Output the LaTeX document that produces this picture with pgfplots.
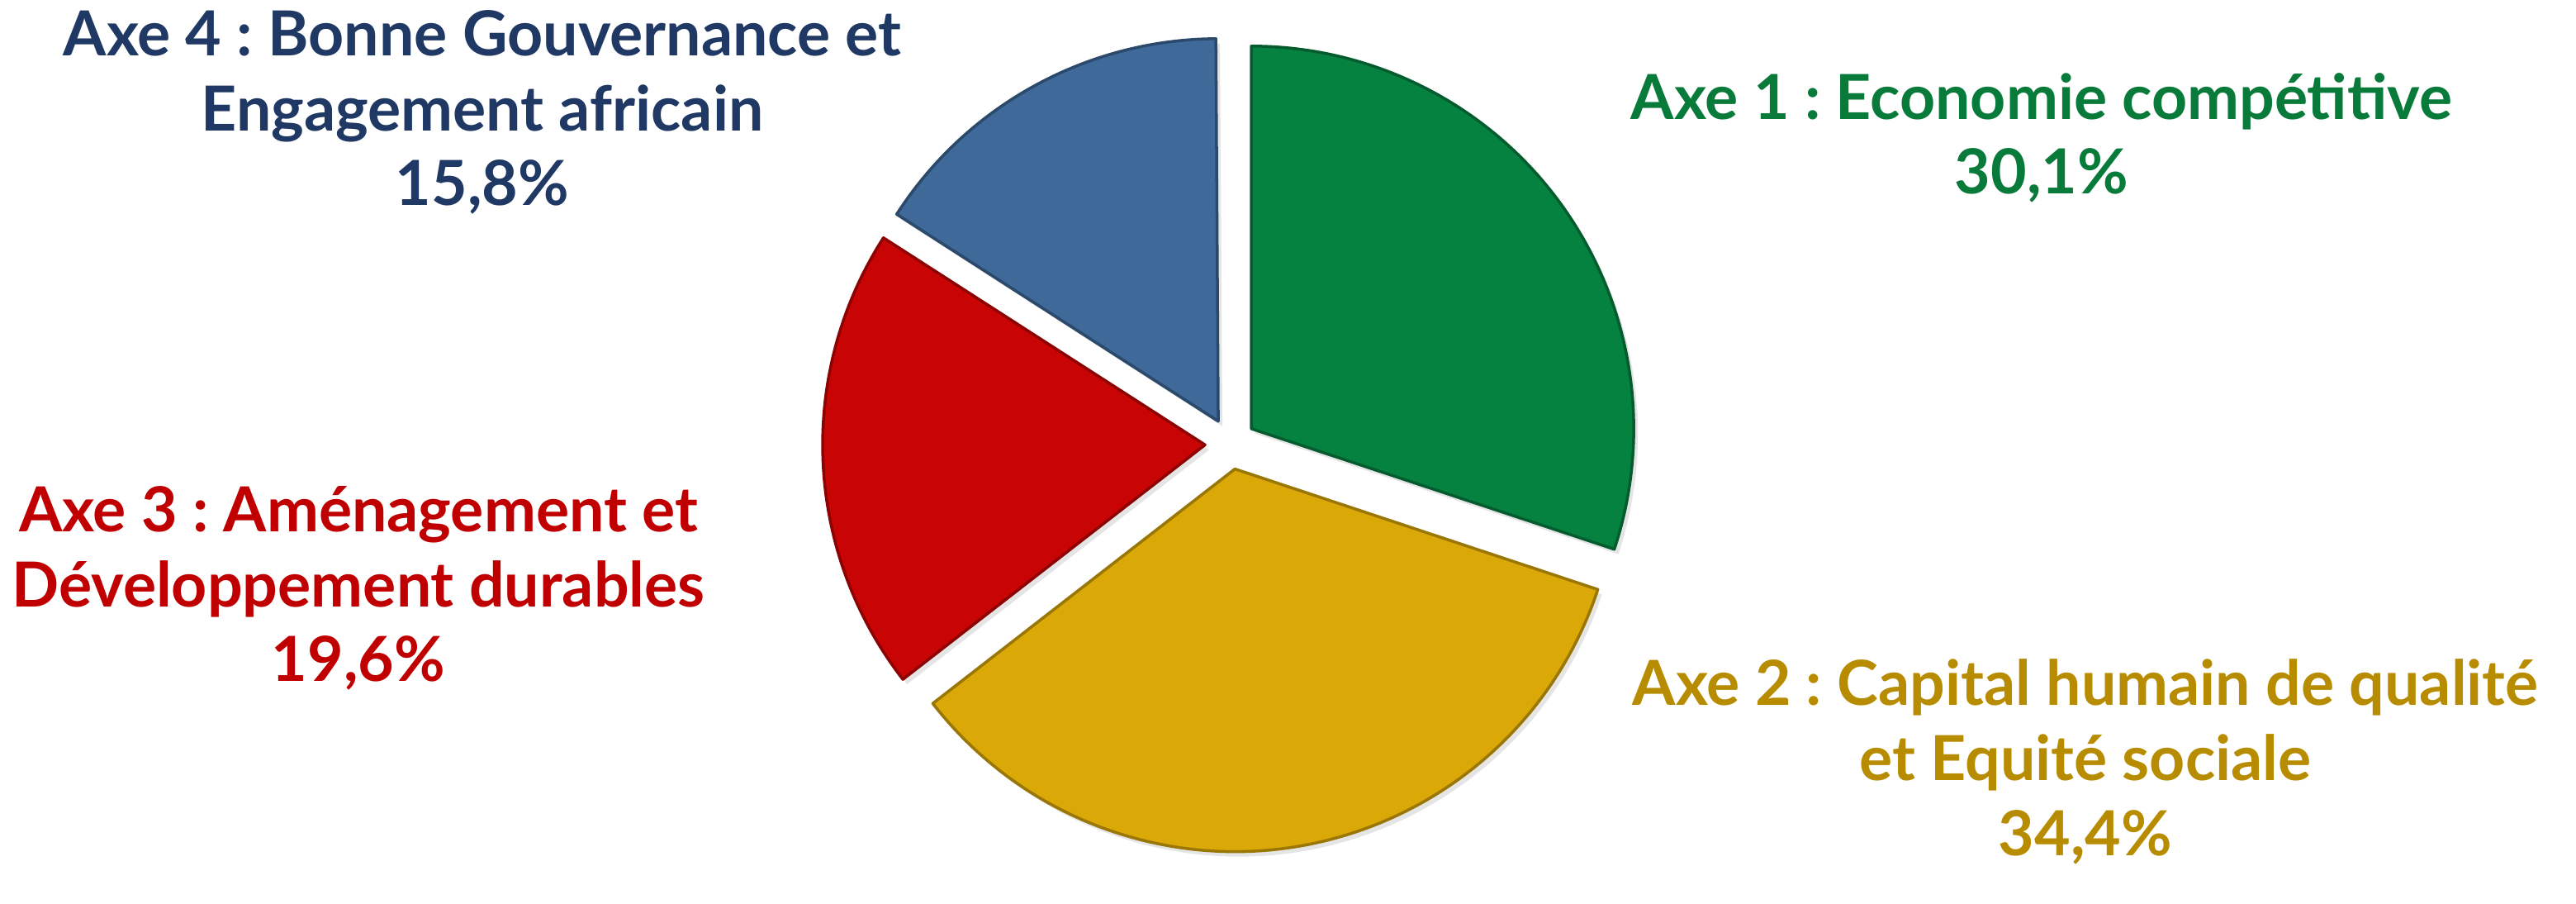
\documentclass[border=0pt]{standalone}
\usepackage{pgfplots}
\pgfplotsset{compat=1.18}
\usepackage{pgfplotstable}
\usepackage{fontspec}
\setmainfont{Lato}

\definecolor{slgreen}{RGB}{6,130,64}
\definecolor{slyellow}{RGB}{218,168,7}
\definecolor{slred}{RGB}{200,4,4}
\definecolor{slblue}{RGB}{62,105,153}
\definecolor{txgreen}{RGB}{8,122,58}
\definecolor{txgold}{RGB}{184,140,0}
\definecolor{txred}{RGB}{192,0,0}
\definecolor{txnavy}{RGB}{31,56,100}

% share of each axis (%)
\pgfplotstableread{
axe pct
1 30.1
2 34.4
3 19.6
4 15.8
}\pietable

\pgfplotstablegetelem{0}{pct}\of\pietable \let\pA\pgfplotsretval
\pgfplotstablegetelem{1}{pct}\of\pietable \let\pB\pgfplotsretval
\pgfplotstablegetelem{2}{pct}\of\pietable \let\pC\pgfplotsretval
\pgfplotstablegetelem{3}{pct}\of\pietable \let\pD\pgfplotsretval
\pgfmathsetmacro\angA{90}
\pgfmathsetmacro\angB{\angA-3.6*\pA}
\pgfmathsetmacro\angC{\angB-3.6*\pB}
\pgfmathsetmacro\angD{\angC-3.6*\pC}
\pgfmathsetmacro\angE{\angD-3.6*\pD}

% exploded slice: start angle, end angle, colour
\newcommand\slice[3]{%
  \fill[black, opacity=0.10]
    ([shift={({(#1+#2)/2}:3.1mm)}, xshift=0.5mm, yshift=-0.6mm]axis cs:1490,503) -- ++(#1:46.3mm)
    arc[start angle=#1, end angle=#2, radius=46.3mm] -- cycle;
  \fill[#3, draw=#3!70!black, line width=1pt, line join=round]
    ([shift={({(#1+#2)/2}:3.1mm)}]axis cs:1490,503) -- ++(#1:46.3mm)
    arc[start angle=#1, end angle=#2, radius=46.3mm] -- cycle;}

\begin{document}
\frenchspacing
\begin{tikzpicture}
\begin{axis}[
  width=311.9mm, height=104mm, scale only axis,
  xmin=0, xmax=3119, ymin=0, ymax=1040,
  hide axis, clip=false]
  \path (axis cs:0,0) rectangle (axis cs:3119,1040);
  \slice{\angA}{\angB}{slgreen}
  \slice{\angB}{\angC}{slyellow}
  \slice{\angC}{\angD}{slred}
  \slice{\angD}{\angE}{slblue}
  \begin{scope}[every node/.style={align=center, font=\bfseries\fontsize{21.4}{25.8}\selectfont}]
    \node[text=txgreen] at (axis cs:2472,873) {Axe 1 : Economie compétitive\\30,1\%};
    \node[text=txgold] at (axis cs:2525,118) {Axe 2 : Capital humain de qualité\\et Equité sociale\\34,4\%};
    \node[text=txred] at (axis cs:434,328) {Axe 3 : Aménagement et\\Développement durables\\19,6\%};
    \node[text=txnavy] at (axis cs:584,904) {Axe 4 : Bonne Gouvernance et\\Engagement africain\\15,8\%};
  \end{scope}
\end{axis}
\end{tikzpicture}
\end{document}
